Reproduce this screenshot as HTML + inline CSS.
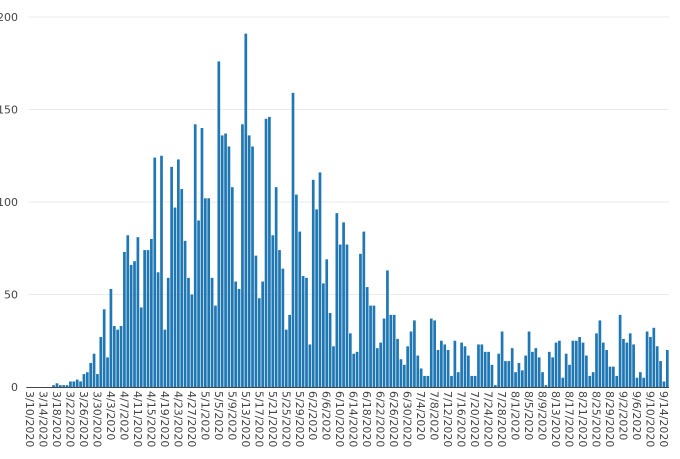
<!DOCTYPE html>
<html><head><meta charset="utf-8"><style>
html,body{margin:0;padding:0;background:#fff;}
svg{display:block;font-family:"DejaVu Sans","Liberation Sans",sans-serif;}
</style></head><body>
<svg id="chart" width="680" height="459" viewBox="0 0 680 459">
<g id="grid"></g>
<g id="bars"></g>
<g id="yaxis"></g>
<g id="xaxis"></g>
</svg>
<script>
const startDate = [2020, 3, 10];
const values = [0,0,0,0,0,0,0,1,2,1,1,1,3,3,4,3,7,8,13,18,7,27,42,16,53,33,31,33,73,82,66,68,81,43,74,74,80,124,62,125,31,59,119,97,123,107,79,59,50,142,90,140,102,102,59,44,176,136,137,130,108,57,53,142,191,136,130,71,48,57,145,146,82,108,74,64,31,39,159,104,84,60,59,23,112,96,116,56,69,40,22,94,77,89,77,29,18,19,72,84,54,44,44,21,24,37,63,39,39,26,15,12,22,30,36,17,10,6,6,37,36,20,25,23,20,6,25,8,24,22,17,6,6,23,23,19,19,12,1,18,30,14,14,21,8,13,9,17,30,19,21,16,8,1,19,16,24,25,5,18,12,25,25,27,24,17,6,8,29,36,24,20,11,11,6,39,26,24,29,23,5,8,5,30,27,32,22,14,3,20];
const yTicks = [0,50,100,150,200];
const xTickEvery = 4;

const NS = "http://www.w3.org/2000/svg";
const plotL = 28.3, plotR = 669, y0 = 387, yTop = 17, yMax = 200;
const n = values.length;
const step = (plotR - plotL) / n;
function xPos(i){ return plotL + (i + 0.5) * step; }
function yPos(v){ return y0 - (v / yMax) * (y0 - yTop); }
function mk(tag, attrs, parent){ const e = document.createElementNS(NS, tag); for (const k in attrs) e.setAttribute(k, attrs[k]); parent.appendChild(e); return e; }

const grid = document.getElementById('grid');
const yaxis = document.getElementById('yaxis');
yTicks.forEach(t => {
  if (t > 0) {
    const g = mk('line', {x1: plotL, x2: plotR, y1: yPos(t), y2: yPos(t), stroke: '#ebebeb', 'stroke-width': 1}, grid);
    
    
  }
  const lb = mk('text', {x: 18, y: yPos(t) + 4, 'text-anchor': 'end', 'font-size': 11, fill: '#444'}, yaxis);
  lb.textContent = t;
  
  
});

const bars = document.getElementById('bars');
const bw = step * 0.8;
values.forEach((v, i) => {
  const r = mk('rect', {x: xPos(i) - bw/2, y: yPos(v), width: bw, height: y0 - yPos(v), fill: '#1f77b4'}, bars);
  
  
});

const xaxis = document.getElementById('xaxis');
const ax = mk('line', {x1: plotL - 2, x2: plotR, y1: y0 + 0.5, y2: y0 + 0.5, stroke: '#444', 'stroke-width': 1}, xaxis);


const d0 = new Date(startDate[0], startDate[1]-1, startDate[2]);
for (let i = 0; i < n; i += xTickEvery) {
  const d = new Date(d0.getTime()); d.setDate(d0.getDate() + i);
  const label = (d.getMonth()+1) + '/' + d.getDate() + '/' + d.getFullYear();
  const x = xPos(i) - 4, y = 391;
  const t = mk('text', {x: x, y: y, 'font-size': 11, fill: '#444', transform: 'rotate(90 ' + x + ' ' + y + ')'}, xaxis);
  t.textContent = label;
  
  
}
</script>
</body></html>
